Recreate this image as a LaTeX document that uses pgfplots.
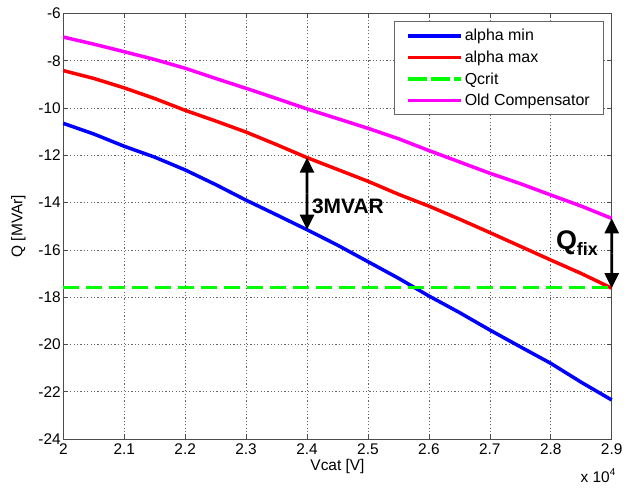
\documentclass[border=0pt]{standalone}
\usepackage{fontspec}
\setmainfont{Liberation Sans}
\usepackage{pgfplots}
\pgfplotsset{compat=1.18}
\usetikzlibrary{arrows.meta,calc}

\definecolor{mblue}{rgb}{0,0,1}
\definecolor{mred}{rgb}{1,0,0}
\definecolor{mgreen}{rgb}{0,1,0}
\definecolor{mmagenta}{rgb}{1,0,1}

\begin{document}
\begin{tikzpicture}
\useasboundingbox (0,0) rectangle (624bp,490bp);
\begin{axis}[
  at={(63.3bp,51bp)}, anchor=south west,
  scale only axis, width=548.4bp, height=425.6bp,
  xmin=20000, xmax=29000, ymin=-24, ymax=-6,
  scaled x ticks=false, scaled y ticks=false,
  xtick={20000,21000,22000,23000,24000,25000,26000,27000,28000,29000},
  xticklabels={2,2.1,2.2,2.3,2.4,2.5,2.6,2.7,2.8,2.9},
  ytick={-24,-22,-20,-18,-16,-14,-12,-10,-8,-6},
  yticklabels={-24,-22,-20,-18,-16,-14,-12,-10,-8,-6},
  ticklabel style={font=\fontsize{15.5}{18}\selectfont},
  xticklabel style={yshift=-1bp},
  yticklabel style={xshift=1bp},
  tick align=inside, tick pos=both,
  major tick length=5bp,
  tick style={black!70, line width=0.6bp},
  axis line style={black!70, line width=0.7bp},
  grid=major,
  major grid style={black!60, line width=0.6bp, dash pattern=on 1.2bp off 2.2bp},
  xlabel={Vcat [V]}, ylabel={Q [MVAr]},
  label style={font=\fontsize{15.5}{18}\selectfont},
  xlabel style={at={(axis description cs:0.5,-0.065)}, anchor=center},
  ylabel style={at={(axis description cs:-0.082,0.5)}, anchor=center},
  legend style={at={(0.986,0.981)}, anchor=north east,
    font=\fontsize{16}{18}\selectfont, draw=black!60, line width=0.6bp,
    inner xsep=12bp, inner ysep=5.5bp, row sep=4.6bp,
    cells={anchor=west}},
  legend image code/.code={\path (0bp,0bp) -- (53bp,0bp);
    \draw[#1, line width=3.5bp] (3bp,0bp) -- (53bp,0bp);},
  clip=false,
]
\addplot[mblue, line width=3.5bp] coordinates {
  (20000,-10.65) (20500,-11.10) (21000,-11.62) (21500,-12.08) (22000,-12.62)
  (22500,-13.24) (23000,-13.90) (23500,-14.52) (24000,-15.15) (24500,-15.80)
  (25000,-16.50) (25500,-17.20) (26000,-17.95) (26500,-18.65) (27000,-19.39)
  (27500,-20.10) (28000,-20.80) (28500,-21.60) (29000,-22.35)};
\addlegendentry{alpha min}
\addplot[mred, line width=3.5bp] coordinates {
  (20000,-8.42) (20500,-8.75) (21000,-9.15) (21500,-9.60) (22000,-10.10)
  (22500,-10.55) (23000,-11.02) (23500,-11.55) (24000,-12.10) (24500,-12.60)
  (25000,-13.10) (25500,-13.65) (26000,-14.15) (26500,-14.70) (27000,-15.27)
  (27500,-15.85) (28000,-16.43) (28500,-17.00) (29000,-17.62)};
\addlegendentry{alpha max}
\addplot[mgreen, line width=3.5bp, dash pattern=on 16bp off 7bp] coordinates {
  (20000,-17.6) (29000,-17.6)};
\addlegendentry{Qcrit}
\addplot[mmagenta, line width=3.5bp] coordinates {
  (20000,-7.00) (20500,-7.30) (21000,-7.62) (21500,-7.95) (22000,-8.32)
  (22500,-8.75) (23000,-9.17) (23500,-9.60) (24000,-10.04) (24500,-10.45)
  (25000,-10.86) (25500,-11.30) (26000,-11.80) (26500,-12.28) (27000,-12.76)
  (27500,-13.20) (28000,-13.68) (28500,-14.15) (29000,-14.67)};
\addlegendentry{Old Compensator}

% annotation anchors: the 3 MVAr gap and the fixed compensation step
\coordinate (gtop) at (axis cs:24000,-12.10);
\coordinate (gbot) at (axis cs:24000,-15.15);
\coordinate (ftop) at (axis cs:29000,-14.67);
\coordinate (fbot) at (axis cs:29000,-17.62);
\coordinate (glab) at (axis cs:24080,-14.15);
\coordinate (flab) at (axis cs:28430,-15.72);
\coordinate (xsc) at (axis description cs:0.975,-0.086);
\end{axis}
\node[anchor=center, font=\fontsize{15.5}{18}\selectfont] at (xsc) {x 10\raisebox{0.9ex}{\fontsize{10}{12}\selectfont 4}};
\draw[line width=2.6bp, -{Triangle[length=15bp,width=14bp]}] ($(gtop)!0.5!(gbot)$) -- (gtop);
\draw[line width=2.6bp, -{Triangle[length=15bp,width=14bp]}] ($(gtop)!0.5!(gbot)$) -- (gbot);
\draw[line width=2.6bp, -{Triangle[length=15bp,width=14bp]}] ($(ftop)!0.5!(fbot)$) -- (ftop);
\draw[line width=2.6bp, -{Triangle[length=15bp,width=14bp]}] ($(ftop)!0.5!(fbot)$) -- (fbot);
\node[anchor=west, inner sep=0pt, font=\fontsize{21}{24}\selectfont\bfseries] at (glab) {3MVAR};
\node[anchor=center, inner sep=0pt, font=\fontsize{27}{30}\selectfont\bfseries] at (flab) {Q\raisebox{-0.25em}{\fontsize{18}{20}\selectfont fix}};
\end{tikzpicture}
\end{document}
